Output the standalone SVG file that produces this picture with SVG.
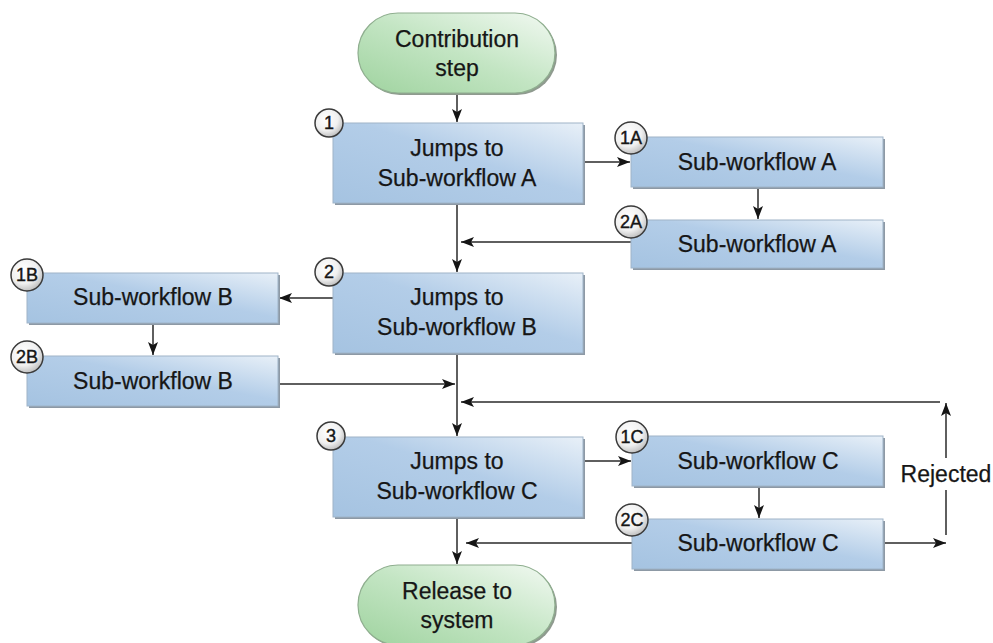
<svg xmlns="http://www.w3.org/2000/svg" width="993" height="643" viewBox="0 0 993 643">
<defs>
<linearGradient id="gBox" x1="0" y1="1" x2="1" y2="0">
<stop offset="0" stop-color="#a5c3e1"/>
<stop offset="0.55" stop-color="#b3cde8"/>
<stop offset="1" stop-color="#e8f0f8"/>
</linearGradient>
<linearGradient id="gPill" x1="0" y1="1" x2="1" y2="0">
<stop offset="0" stop-color="#9fd39f"/>
<stop offset="0.5" stop-color="#c3e5c3"/>
<stop offset="1" stop-color="#f2f9f2"/>
</linearGradient>
<radialGradient id="gBadge" cx="0.4" cy="0.35" r="0.7">
<stop offset="0" stop-color="#ffffff"/>
<stop offset="0.6" stop-color="#f0f0f0"/>
<stop offset="1" stop-color="#b8b8b8"/>
</radialGradient>
<marker id="ah" viewBox="0 0 13 10" refX="13" refY="5" markerWidth="13" markerHeight="10" markerUnits="userSpaceOnUse" orient="auto">
<path d="M0,0 L13,5 L0,10 L3,5 Z" fill="#151515"/>
</marker>
</defs>
<style>
.box{fill:url(#gBox);stroke:#9fb4c8;stroke-width:1}
.shadow{fill:#8d99a5}
.pill{fill:url(#gPill);stroke:#8fae8f;stroke-width:1.2}
.pshadow{fill:#8f9a8f}
.badge{fill:url(#gBadge);stroke:#3a3a3a;stroke-width:1.5}
.t{font-family:"Liberation Sans",Arial,sans-serif;font-size:23px;fill:#161616;stroke:#161616;stroke-width:0.25;text-anchor:middle;dominant-baseline:central}
.bt{font-family:"Liberation Sans",Arial,sans-serif;font-size:18px;fill:#161616;stroke:#161616;stroke-width:0.4;text-anchor:middle;dominant-baseline:central}
.c{fill:none;stroke:#2a2a2a;stroke-width:1.5}
.ca{fill:none;stroke:#2a2a2a;stroke-width:1.5;marker-end:url(#ah)}
</style>

<g id="connectors">
<line class="ca" x1="457" y1="94" x2="457" y2="122"/>
<line class="ca" x1="583" y1="162" x2="630" y2="162"/>
<line class="ca" x1="758" y1="188" x2="758" y2="219"/>
<line class="ca" x1="457" y1="204" x2="457" y2="272"/>
<line class="ca" x1="631" y1="242" x2="461" y2="242"/>
<line class="ca" x1="333" y1="298" x2="279" y2="298"/>
<line class="ca" x1="153" y1="324" x2="153" y2="355"/>
<line class="ca" x1="457" y1="354" x2="457" y2="436"/>
<line class="ca" x1="279" y1="384" x2="455" y2="384"/>
<line class="ca" x1="940" y1="402" x2="461" y2="402"/>
<line class="ca" x1="583" y1="461" x2="631" y2="461"/>
<line class="ca" x1="759" y1="488" x2="759" y2="518"/>
<line class="ca" x1="632" y1="543" x2="466" y2="543"/>
<line class="ca" x1="457" y1="518" x2="457" y2="564"/>
<line class="ca" x1="883" y1="543" x2="946" y2="543"/>
<line class="c" x1="946" y1="535" x2="946" y2="490"/>
<line class="ca" x1="946" y1="458" x2="946" y2="403"/>
<text class="t" x="946" y="474">Rejected</text>
</g>

<g id="start">
<rect class="pshadow" x="360" y="15" width="197" height="80" rx="40"/>
<rect class="pill" x="358" y="13" width="197" height="80" rx="40"/>
<text class="t" x="457" y="39">Contribution</text>
<text class="t" x="457" y="68">step</text>
</g>

<g id="step1">
<rect class="shadow" x="335" y="125" width="250" height="80"/>
<rect class="box" x="333" y="123" width="250" height="80"/>
<text class="t" x="457" y="148">Jumps to</text>
<text class="t" x="457" y="178">Sub-workflow A</text>
<circle class="badge" cx="329" cy="123" r="14"/>
<text class="bt" x="329" y="123">1</text>
</g>

<g id="step1A">
<rect class="shadow" x="633" y="139" width="252" height="50"/>
<rect class="box" x="631" y="137" width="252" height="50"/>
<text class="t" x="757" y="162">Sub-workflow A</text>
<circle class="badge" cx="631" cy="138" r="16"/>
<text class="bt" x="631" y="138">1A</text>
</g>

<g id="step2A">
<rect class="shadow" x="633" y="222" width="252" height="48"/>
<rect class="box" x="631" y="220" width="252" height="48"/>
<text class="t" x="757" y="244">Sub-workflow A</text>
<circle class="badge" cx="631" cy="222" r="16"/>
<text class="bt" x="631" y="222">2A</text>
</g>

<g id="step2">
<rect class="shadow" x="335" y="275" width="250" height="80"/>
<rect class="box" x="333" y="273" width="250" height="80"/>
<text class="t" x="457" y="297">Jumps to</text>
<text class="t" x="457" y="327">Sub-workflow B</text>
<circle class="badge" cx="329" cy="272" r="14"/>
<text class="bt" x="329" y="272">2</text>
</g>

<g id="step1B">
<rect class="shadow" x="29" y="275" width="251" height="50"/>
<rect class="box" x="27" y="273" width="251" height="50"/>
<text class="t" x="153" y="297">Sub-workflow B</text>
<circle class="badge" cx="27" cy="275" r="16"/>
<text class="bt" x="27" y="275">1B</text>
</g>

<g id="step2B">
<rect class="shadow" x="29" y="358" width="251" height="50"/>
<rect class="box" x="27" y="356" width="251" height="50"/>
<text class="t" x="153" y="381">Sub-workflow B</text>
<circle class="badge" cx="27" cy="357" r="16"/>
<text class="bt" x="27" y="357">2B</text>
</g>

<g id="step3">
<rect class="shadow" x="335" y="439" width="250" height="80"/>
<rect class="box" x="333" y="437" width="250" height="80"/>
<text class="t" x="457" y="461">Jumps to</text>
<text class="t" x="457" y="491">Sub-workflow C</text>
<circle class="badge" cx="331" cy="436" r="14"/>
<text class="bt" x="331" y="436">3</text>
</g>

<g id="step1C">
<rect class="shadow" x="634" y="438" width="251" height="50"/>
<rect class="box" x="632" y="436" width="251" height="50"/>
<text class="t" x="758" y="461">Sub-workflow C</text>
<circle class="badge" cx="632" cy="437" r="16"/>
<text class="bt" x="632" y="437">1C</text>
</g>

<g id="step2C">
<rect class="shadow" x="634" y="521" width="251" height="50"/>
<rect class="box" x="632" y="519" width="251" height="50"/>
<text class="t" x="758" y="543">Sub-workflow C</text>
<circle class="badge" cx="632" cy="520" r="16"/>
<text class="bt" x="632" y="520">2C</text>
</g>

<g id="end">
<rect class="pshadow" x="360" y="567" width="197" height="80" rx="40"/>
<rect class="pill" x="358" y="565" width="197" height="80" rx="40"/>
<text class="t" x="457" y="591">Release to</text>
<text class="t" x="457" y="620">system</text>
</g>
</svg>
